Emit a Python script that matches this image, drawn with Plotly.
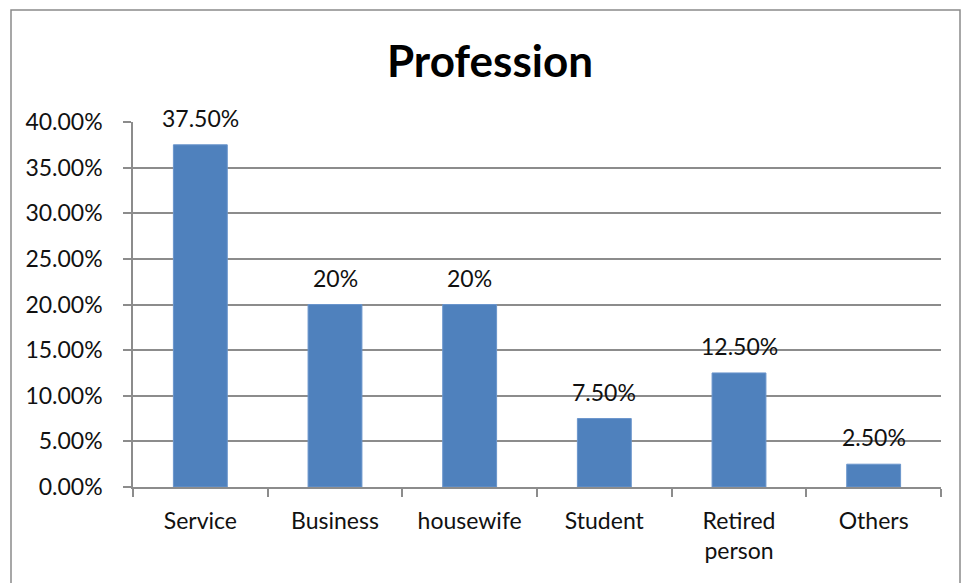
import plotly.graph_objects as go

categories = ["Service", "Business", "housewife", "Student", "Retired<br>person", "Others"]
shares = [0.375, 0.20, 0.20, 0.075, 0.125, 0.025]
labels = ["37.50%", "20%", "20%", "7.50%", "12.50%", "2.50%"]
y_ticks = [0.0, 0.05, 0.10, 0.15, 0.20, 0.25, 0.30, 0.35, 0.40]

FONT = "Lato"
GRID = "#8c8c8c"
FS = 23

fig = go.Figure(
    go.Bar(
        x=categories,
        y=shares,
        width=0.4,
        marker=dict(color="#4F81BD", line=dict(color="#6a95cc", width=1)),
        hoverinfo="skip",
    )
)

for cat, val, lab in zip(categories, shares, labels):
    fig.add_annotation(
        x=cat, y=val, text=lab, showarrow=False, yshift=27,
        font=dict(family=FONT, size=FS, color="#111"),
    )

W, H = 961, 583
ml, mr, mt, mb = 133, 20, 122, 96
pw, ph = W - ml - mr, H - mt - mb


def px_x(p):
    return (p - ml) / pw


def px_y(p):
    return (H - mb - p) / ph


# chart frame
fig.add_shape(
    type="rect", xref="paper", yref="paper",
    x0=px_x(11), x1=px_x(960), y0=px_y(600), y1=px_y(10),
    line=dict(color="#8a8a8a", width=1.5), fillcolor="rgba(0,0,0,0)", layer="below",
)

fig.update_layout(
    width=W, height=H,
    margin=dict(l=ml, r=mr, t=mt, b=mb),
    paper_bgcolor="white", plot_bgcolor="white",
    showlegend=False,
    title=dict(
        text="<b>Profession</b>", x=490 / W, xanchor="center",
        y=1 - 62 / H, yanchor="middle",
        font=dict(family=FONT, size=44, color="#000"),
    ),
    font=dict(family=FONT, size=FS, color="#111"),
)

fig.update_xaxes(
    type="category", tickson="boundaries",
    ticks="outside", ticklen=8, tickcolor=GRID, tickwidth=1.5,
    showline=True, linecolor=GRID, linewidth=1.5,
    showgrid=False, ticklabelstandoff=13,
    tickfont=dict(family=FONT, size=FS, color="#111"),
)
fig.update_yaxes(
    range=[0, 0.4], tickvals=y_ticks, tickformat=".2%",
    ticks="outside", ticklen=8, tickcolor=GRID, tickwidth=1.5,
    showline=True, linecolor=GRID, linewidth=1.5,
    showgrid=True, gridcolor=GRID, gridwidth=1.5,
    zeroline=False, ticklabelstandoff=16,
    tickfont=dict(family=FONT, size=FS, color="#111"),
)

fig.write_html("out.html")
